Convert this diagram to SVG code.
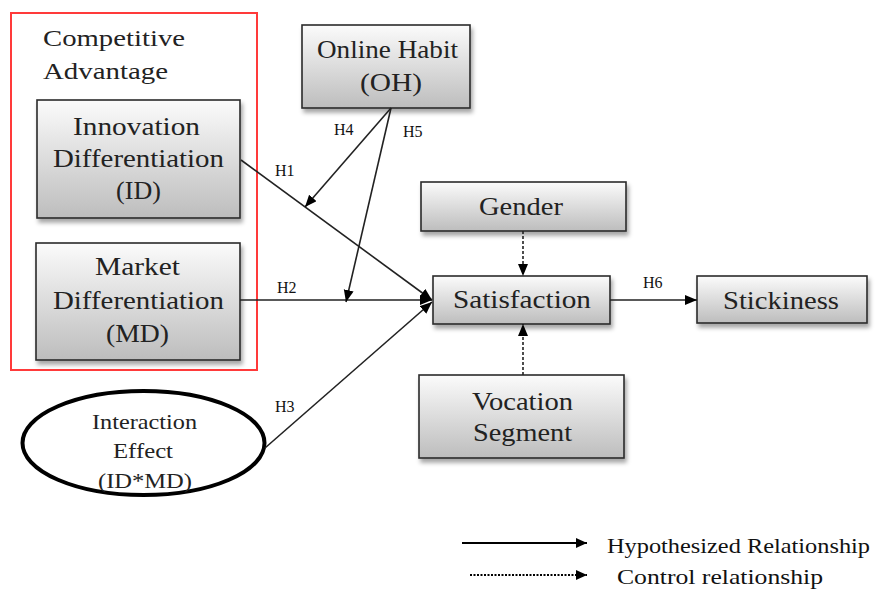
<svg xmlns="http://www.w3.org/2000/svg" width="877" height="594" viewBox="0 0 877 594">
<defs>
<linearGradient id="g" x1="0" y1="0" x2="0" y2="1">
<stop offset="0" stop-color="#fbfbfb"/>
<stop offset="1" stop-color="#bdbdbd"/>
</linearGradient>
<filter id="sh" x="-10%" y="-10%" width="130%" height="140%">
<feDropShadow dx="2" dy="4" stdDeviation="2" flood-color="#000" flood-opacity="0.35"/>
</filter>
<marker id="ah" markerUnits="userSpaceOnUse" markerWidth="14" markerHeight="12" refX="12" refY="5" orient="auto">
<path d="M0,0 L12,5 L0,10 z" fill="#000"/>
</marker>
<marker id="ahs" markerUnits="userSpaceOnUse" markerWidth="14" markerHeight="12" refX="11" refY="5" orient="auto">
<path d="M0,0 L11,5 L0,10 z" fill="#000"/>
</marker>
</defs>
<style>
.box{fill:url(#g);stroke:#2a2a2a;stroke-width:1.6;filter:url(#sh)}
.t{font-family:"Liberation Serif","Times New Roman",serif;font-size:26px;fill:#222;text-anchor:middle}
.ct{font-family:"Liberation Serif","Times New Roman",serif;font-size:24px;fill:#222}
.et{font-family:"Liberation Serif","Times New Roman",serif;font-size:21px;fill:#222;text-anchor:middle}
.h{font-family:"Liberation Serif","Times New Roman",serif;font-size:16px;fill:#111}
.lg{font-family:"Liberation Serif","Times New Roman",serif;font-size:22px;fill:#111}
.c{stroke:#222;stroke-width:1.6;fill:none}
.d{stroke:#222;stroke-width:1.6;fill:none;stroke-dasharray:3,2}
</style>
<g id="competitive-advantage">
<rect x="11" y="13" width="246" height="357" fill="none" stroke="#ff3a3a" stroke-width="2"/>
<text class="ct" x="43" y="46" textLength="142" lengthAdjust="spacingAndGlyphs">Competitive</text>
<text class="ct" x="43" y="79" textLength="125" lengthAdjust="spacingAndGlyphs">Advantage</text>
</g>
<g id="innovation">
<rect class="box" x="37" y="100" width="203" height="118"/>
<text class="t" x="136.5" y="135" textLength="127" lengthAdjust="spacingAndGlyphs">Innovation</text>
<text class="t" x="138.5" y="167" textLength="171" lengthAdjust="spacingAndGlyphs">Differentiation</text>
<text class="t" x="138.5" y="199">(ID)</text>
</g>
<g id="market">
<rect class="box" x="36" y="243" width="204" height="117"/>
<text class="t" x="137.5" y="275" textLength="85" lengthAdjust="spacingAndGlyphs">Market</text>
<text class="t" x="138.5" y="309" textLength="171" lengthAdjust="spacingAndGlyphs">Differentiation</text>
<text class="t" x="137.5" y="342" textLength="63" lengthAdjust="spacingAndGlyphs">(MD)</text>
</g>
<g id="online-habit">
<rect class="box" x="302" y="25" width="168" height="83"/>
<text class="t" x="387.5" y="58" textLength="141" lengthAdjust="spacingAndGlyphs">Online Habit</text>
<text class="t" x="391" y="91" textLength="62" lengthAdjust="spacingAndGlyphs">(OH)</text>
</g>
<g id="gender">
<rect class="box" x="421" y="182" width="205" height="49"/>
<text class="t" x="521" y="215" textLength="84" lengthAdjust="spacingAndGlyphs">Gender</text>
</g>
<g id="satisfaction">
<rect class="box" x="433" y="276" width="177" height="48"/>
<text class="t" x="522" y="308" textLength="138" lengthAdjust="spacingAndGlyphs">Satisfaction</text>
</g>
<g id="stickiness">
<rect class="box" x="697" y="276" width="170" height="47"/>
<text class="t" x="781" y="309" textLength="116" lengthAdjust="spacingAndGlyphs">Stickiness</text>
</g>
<g id="vocation">
<rect class="box" x="419" y="375" width="205" height="83"/>
<text class="t" x="522.5" y="410" textLength="101" lengthAdjust="spacingAndGlyphs">Vocation</text>
<text class="t" x="522.5" y="441" textLength="99" lengthAdjust="spacingAndGlyphs">Segment</text>
</g>
<g id="interaction">
<ellipse cx="143.5" cy="443" rx="121" ry="52" fill="#fff" stroke="#000" stroke-width="4"/>
<text class="et" x="144.5" y="429" textLength="105" lengthAdjust="spacingAndGlyphs">Interaction</text>
<text class="et" x="143" y="458" textLength="60" lengthAdjust="spacingAndGlyphs">Effect</text>
<text class="et" x="145" y="488" textLength="94" lengthAdjust="spacingAndGlyphs">(ID*MD)</text>
</g>
<g id="connectors">
<line class="c" x1="241" y1="160" x2="432" y2="300" marker-end="url(#ah)"/>
<line class="c" x1="240" y1="300" x2="432" y2="300" marker-end="url(#ah)"/>
<line class="c" x1="265" y1="448" x2="432" y2="302" marker-end="url(#ah)"/>
<line class="c" x1="391" y1="108" x2="305" y2="207" marker-end="url(#ah)"/>
<line class="c" x1="391" y1="108" x2="346" y2="302" marker-end="url(#ah)"/>
<line class="c" x1="610" y1="300" x2="697" y2="300" marker-end="url(#ah)"/>
<line class="d" x1="523" y1="231" x2="523" y2="276" marker-end="url(#ah)"/>
<line class="d" x1="523" y1="375" x2="523" y2="324" marker-end="url(#ah)"/>
<text class="h" x="275" y="176">H1</text>
<text class="h" x="334" y="135">H4</text>
<text class="h" x="403" y="137">H5</text>
<text class="h" x="277" y="293">H2</text>
<text class="h" x="275" y="412">H3</text>
<text class="h" x="643" y="288">H6</text>
</g>
<g id="legend">
<line x1="462" y1="543" x2="587" y2="543" stroke="#000" stroke-width="2.2" marker-end="url(#ahs)"/>
<text class="lg" x="607" y="553" textLength="263" lengthAdjust="spacingAndGlyphs">Hypothesized Relationship</text>
<line x1="470" y1="575" x2="587" y2="575" stroke="#000" stroke-width="2.2" stroke-dasharray="2,1.5" marker-end="url(#ahs)"/>
<text class="lg" x="617" y="584" textLength="206" lengthAdjust="spacingAndGlyphs">Control relationship</text>
</g>
</svg>
